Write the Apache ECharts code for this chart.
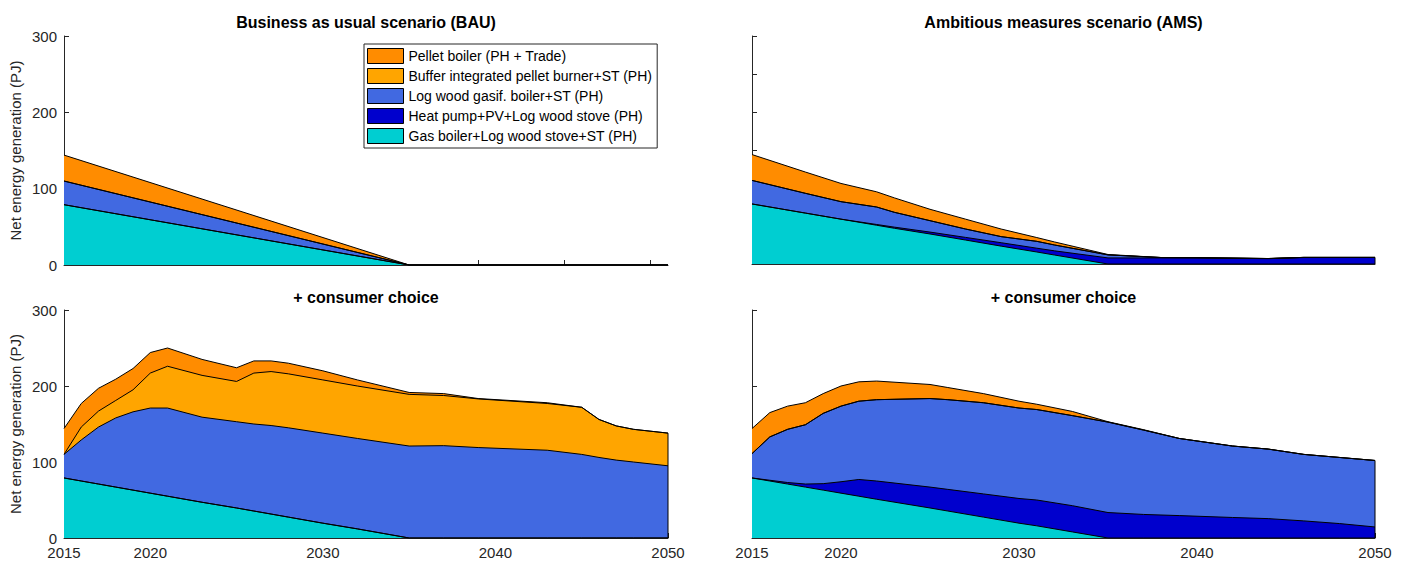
<!DOCTYPE html>
<html>
<head>
<meta charset="utf-8">
<script src="https://cdn.jsdelivr.net/npm/echarts@6/dist/echarts.min.js"></script>
<style>
html,body{margin:0;padding:0;background:#fff;}
#chart{width:1408px;height:563px;}
</style>
</head>
<body>
<div id="chart"></div>
<script>
// ---------- DATA ----------
const seriesNames = [
  'Pellet boiler (PH + Trade)',
  'Buffer integrated pellet burner+ST (PH)',
  'Log wood gasif. boiler+ST (PH)',
  'Heat pump+PV+Log wood stove (PH)',
  'Gas boiler+Log wood stove+ST (PH)'
];
const panelTitles = ['Business as usual scenario (BAU)', 'Ambitious measures scenario (AMS)', '+ consumer choice', '+ consumer choice'];
const yAxisName = 'Net energy generation (PJ)';
const bottomTickYears = [2015, 2020, 2030, 2040, 2050];
const topTickYears = [2019, 2024, 2029, 2034, 2039, 2044, 2049];

// Panel 1: BAU
const bauYears  = [2015, 2035, 2050];
const bauGas    = [79, 0, 0];
const bauHeat   = [0, 0, 0];
const bauLog    = [31, 0, 0];
const bauBuffer = [0, 0, 0];
const bauPellet = [34, 0, 0];

// Panel 2: AMS
const amsYears  = [2015, 2018, 2020, 2022, 2023, 2025, 2027, 2029, 2031, 2032, 2035, 2038, 2040, 2044, 2046, 2050];
const amsGas    = [79, 67, 59, 51, 47, 39.5, 31.5, 23.5, 15.8, 11.8, 0, 0, 0, 0, 0, 0];
const amsHeat   = [0, 0, 0, 1, 1.5, 2.5, 3.5, 4.5, 5, 5.5, 8, 8, 8, 7, 8.5, 8.5];
const amsLog    = [31, 26, 23, 23, 19.5, 15, 11, 8, 9, 7.7, 4, 0.5, 0.3, 0.2, 0.2, 0.2];
const amsBuffer = [0, 0, 0, 0, 0, 0, 0, 0, 0, 0, 0, 0, 0, 0, 0, 0];
const amsPellet = [34, 28, 24, 20, 19, 15, 13, 10, 5, 4, 0.5, 0, 0, 0, 0, 0];

// Panel 3: BAU + consumer choice
const bauCcYears  = [2015, 2016, 2017, 2018, 2019, 2020, 2021, 2023, 2025, 2026, 2027, 2028, 2030, 2032, 2035, 2037, 2039, 2043, 2045, 2046, 2047, 2048, 2050];
const bauCcGas    = [79, 75, 71, 67, 63, 59, 55, 47, 39.5, 35.5, 31.5, 27.5, 19.5, 12, 0, 0, 0, 0, 0, 0, 0, 0, 0];
const bauCcHeat   = [0, 0, 0, 0, 0, 0, 0, 0, 0, 0, 0, 0, 0, 0, 0, 0, 0, 0, 0, 0, 0, 0, 0];
const bauCcLog    = [31, 54, 75, 91, 103, 112, 116, 112, 113.5, 114.5, 116.5, 117.5, 118.5, 119, 121, 121.5, 119, 115.5, 110, 106, 102.5, 100, 95];
const bauCcBuffer = [0, 17, 21, 23, 29, 46, 55, 55, 53, 67, 71, 71, 70, 69, 68, 66, 64, 61.5, 62, 50, 45, 43, 43];
const bauCcPellet = [34, 31, 30, 28, 28, 27, 24, 21, 18, 16, 14, 14, 12, 8, 2.5, 2.5, 0.5, 1, 0, 0, 0, 0, 0];

// Panel 4: AMS + consumer choice
const amsCcYears  = [2015, 2016, 2017, 2018, 2019, 2020, 2021, 2022, 2025, 2026, 2028, 2030, 2031, 2033, 2035, 2037, 2039, 2042, 2044, 2046, 2048, 2050];
const amsCcGas    = [79, 75, 71, 67, 63, 59, 55, 51, 39.5, 35.5, 27.5, 19.5, 16, 8, 0, 0, 0, 0, 0, 0, 0, 0];
const amsCcHeat   = [0, 1, 2, 4, 8.5, 15, 22, 24, 27.5, 28.5, 30.5, 32.5, 34, 34.5, 33.5, 31, 29.5, 27, 25.5, 22.5, 19, 14.5];
const amsCcLog    = [32, 57, 70, 78, 92.5, 99.5, 103, 107, 116.5, 118, 120, 119, 119, 118.5, 119, 111, 101.5, 94, 91.5, 87.5, 87, 87.5];
const amsCcBuffer = [0, 0, 0, 0, 0, 0, 0, 0, 0, 0, 0, 0, 0, 0, 0, 0, 0, 0, 0, 0, 0, 0];
const amsCcPellet = [33, 32, 30.5, 29, 26, 26.5, 25.5, 24.5, 18.5, 16, 12, 9, 7, 5.5, 0.5, 0.5, 0, 0, 0, 0, 0, 0];

// ---------- STYLE ----------
const colors = {
  'Pellet boiler (PH + Trade)': '#FF8C00',
  'Buffer integrated pellet burner+ST (PH)': '#FFA500',
  'Log wood gasif. boiler+ST (PH)': '#4169E1',
  'Heat pump+PV+Log wood stove (PH)': '#0000CD',
  'Gas boiler+Log wood stove+ST (PH)': '#00CED1'
};
const FONT = '"Liberation Sans", Arial, Helvetica, sans-serif';
const AX = '#262626';

// layers listed bottom -> top
const panels = [
  {years: bauYears, layers: [bauGas, bauHeat, bauLog, bauBuffer, bauPellet]},
  {years: amsYears, layers: [amsGas, amsHeat, amsLog, amsBuffer, amsPellet]},
  {years: bauCcYears, layers: [bauCcGas, bauCcHeat, bauCcLog, bauCcBuffer, bauCcPellet]},
  {years: amsCcYears, layers: [amsCcGas, amsCcHeat, amsCcLog, amsCcBuffer, amsCcPellet]}
];
const layerNames = [seriesNames[4], seriesNames[3], seriesNames[2], seriesNames[1], seriesNames[0]];

const grids = [
  {left: 64, top: 36, width: 604, height: 229},
  {left: 752, top: 36, width: 623, height: 228},
  {left: 64, top: 310, width: 604, height: 228},
  {left: 752, top: 310, width: 623, height: 228}
];

const xAxes = grids.map((g, i) => {
  const bottom = i >= 2;
  return {
    type: 'value', gridIndex: i, min: 2015, max: 2050,
    axisLine: {show: true, lineStyle: {color: AX, width: 1}},
    axisTick: {show: true, inside: true, length: 5, lineStyle: {color: AX},
      customValues: bottom ? bottomTickYears : topTickYears},
    axisLabel: {show: bottom, customValues: bottom ? bottomTickYears : undefined,
      formatter: v => String(v), color: '#262626', fontSize: 15, fontFamily: FONT, margin: 7},
    splitLine: {show: false}
  };
});

const yAxes = grids.map((g, i) => {
  const left = (i % 2 === 0);
  return {
    type: 'value', gridIndex: i, min: 0, max: 300, interval: (i === 1) ? 50 : 100,
    name: left ? yAxisName : '', nameLocation: 'middle', nameGap: 41, nameRotate: 90,
    nameTextStyle: {color: '#262626', fontSize: 15, fontFamily: FONT},
    axisLine: {show: true, lineStyle: {color: AX, width: 1}},
    axisTick: {show: true, inside: true, length: 5, lineStyle: {color: AX}},
    axisLabel: {show: left, color: '#262626', fontSize: 15, fontFamily: FONT, margin: 7, formatter: v => String(v)},
    splitLine: {show: false}
  };
});

// Stacked areas: cumulative tops drawn from the top layer down, so each lower
// layer paints over the upper one (same look as a stacked area plot).
const series = [];
panels.forEach((p, pi) => {
  const cum = [];
  p.layers.forEach((arr, li) => {
    cum.push(arr.map((v, k) => v + (li > 0 ? cum[li - 1][k] : 0)));
  });
  for (let li = p.layers.length - 1; li >= 0; li--) {
    const name = layerNames[li];
    const s = {
      name: name, type: 'line', xAxisIndex: pi, yAxisIndex: pi,
      symbol: 'none', smooth: false, animation: false,
      itemStyle: {color: colors[name]},
      lineStyle: {color: '#000', width: 1},
      areaStyle: {color: colors[name], opacity: 1, origin: 'start'},
      emphasis: {disabled: true},
      data: p.years.map((y, k) => [y, cum[li][k]])
    };
    series.push(s);
  }
  // right-hand edge of the area patches
  const lastIdx = p.years.length - 1;
  const topVal = cum[cum.length - 1][lastIdx];
  if (topVal > 0) {
    series.push({
      type: 'line', xAxisIndex: pi, yAxisIndex: pi, symbol: 'none', animation: false,
      lineStyle: {color: '#000', width: 1}, emphasis: {disabled: true}, silent: true,
      data: [[p.years[lastIdx], 0], [p.years[lastIdx], topVal]]
    });
  }
});

const graphics = grids.map((g, i) => ({
  type: 'text',
  x: g.left + g.width / 2, y: (i < 2 ? 22 : 297),
  style: {text: panelTitles[i], textAlign: 'center', textVerticalAlign: 'middle',
    font: 'bold 16px ' + FONT, fill: '#000'}
}));

const chart = echarts.init(document.getElementById('chart'), null, {renderer: 'svg'});
chart.setOption({
  animation: false,
  backgroundColor: '#fff',
  grid: grids,
  xAxis: xAxes,
  yAxis: yAxes,
  legend: {
    data: seriesNames, orient: 'vertical', left: 364, top: 44,
    itemWidth: 36, itemHeight: 15, itemGap: 4, padding: [4, 5, 4, 3],
    icon: 'rect', itemStyle: {borderColor: '#000', borderWidth: 1},
    borderColor: AX, borderWidth: 1, backgroundColor: '#fff',
    selectedMode: false,
    textStyle: {color: '#000', fontSize: 14, fontFamily: FONT}
  },
  graphic: graphics,
  series: series
});
</script>
</body>
</html>
